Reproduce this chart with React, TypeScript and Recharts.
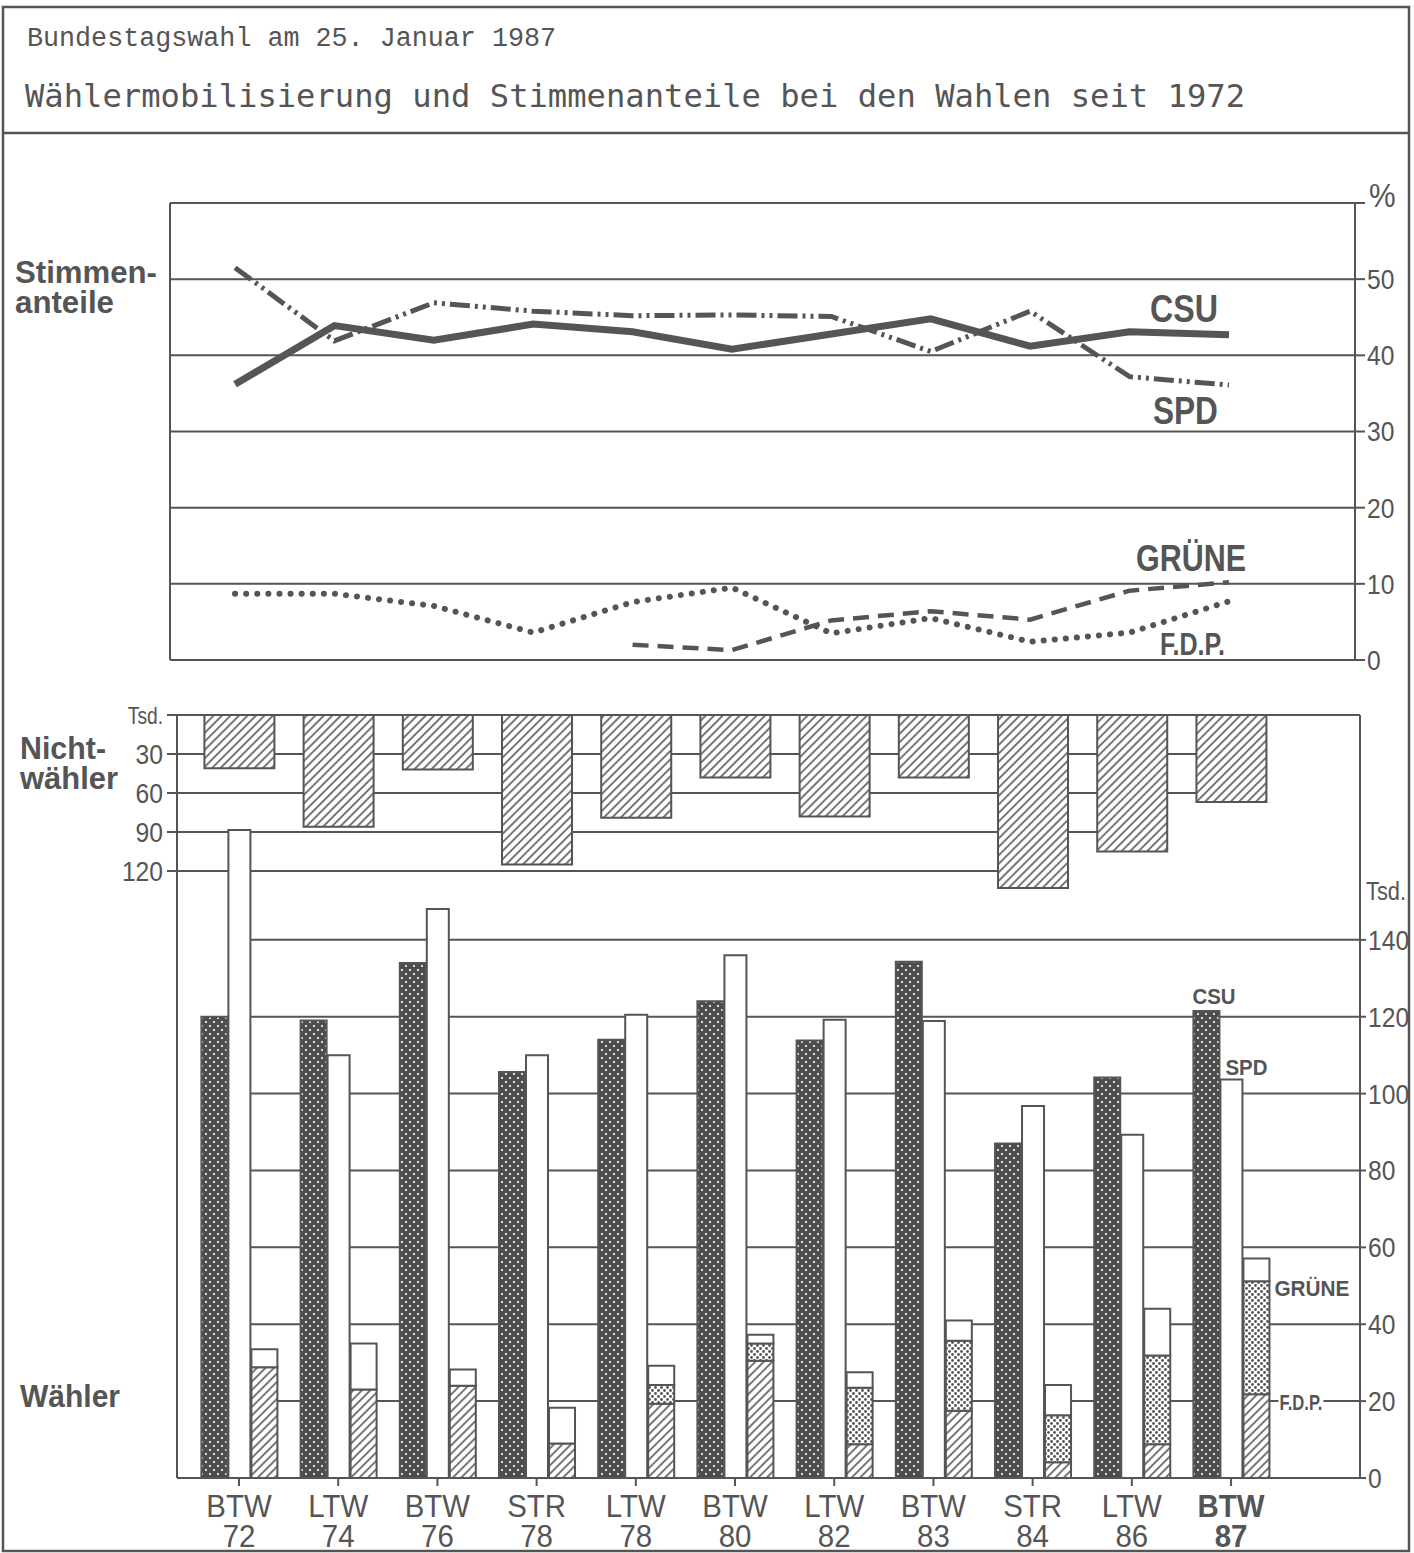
import React from "react";
import {
  LineChart,
  Line,
  ComposedChart,
  Bar,
  XAxis,
  YAxis,
  CartesianGrid,
  ReferenceLine,
  LabelList,
} from "recharts";

const INK = "#555";
const SANS = "'Liberation Sans', Arial, Helvetica, sans-serif";
const W = 1414;
const H = 1553;

// Wahlen
const wahlArt = ["BTW", "LTW", "BTW", "STR", "LTW", "BTW", "LTW", "BTW", "STR", "LTW", "BTW"];
const wahlJahr = ["72", "74", "76", "78", "78", "80", "82", "83", "84", "86", "87"];

// Stimmenanteile in %
const csuProzent = [36.2, 43.9, 42.0, 44.1, 43.1, 40.8, 42.8, 44.8, 41.2, 43.1, 42.7];
const spdProzent = [51.5, 41.9, 46.9, 45.8, 45.2, 45.3, 45.1, 40.5, 45.8, 37.2, 36.1];
const grueneProzent = [null, null, null, null, 2.0, 1.3, 5.2, 6.4, 5.3, 9.1, 10.2];
const fdpProzent = [8.7, 8.7, 7.1, 3.6, 7.6, 9.5, 3.5, 5.5, 2.4, 3.6, 7.7];

// Nichtwähler in Tsd.
const nichtwaehler = [41, 86, 42, 115, 79, 48, 78, 48, 133, 105, 67];

// Wähler in Tsd.
const csuStimmen = [120, 119, 134, 105.6, 114, 124, 113.8, 134.3, 87, 104.2, 121.5];
const spdStimmen = [168.6, 110, 148, 110, 120.5, 136, 119.2, 118.9, 96.8, 89.3, 103.7];
const fdpStimmen = [28.8, 23, 24, 9, 19.3, 30.5, 8.8, 17.5, 4.1, 8.8, 21.8];
const grueneStimmen = [null, null, null, null, 4.9, 4.5, 14.7, 18.2, 12.2, 23.1, 29.4];
const sonstStimmen = [4.7, 12, 4.2, 9.3, 5, 2.3, 4, 5.3, 7.9, 12.1, 5.9];

const pctTicks = [0, 10, 20, 30, 40, 50, 60];
const nwTicks = [0, 30, 60, 90, 120];
const wTicks = [0, 20, 40, 60, 80, 100, 120, 140];

const LAST = wahlArt.length - 1;
const idx = wahlArt.map((_, i) => i);

// x-range of the two plot areas in index units
const XMIN_T = -0.654;
const XMAX_T = 11.268;
const XMIN_B = -0.625;
const XMAX_B = 11.3;

const lineRows = idx.map((i) => ({
  i,
  csu: csuProzent[i],
  spd: spdProzent[i],
  gruene: grueneProzent[i],
  fdp: fdpProzent[i],
}));

const barRows = idx.map((i) => ({
  i,
  nw: nichtwaehler[i],
  csu: csuStimmen[i],
  spd: spdStimmen[i],
  fdp: fdpStimmen[i],
  gruene: grueneStimmen[i],
  sonst: sonstStimmen[i],
}));

// last election whose nonvoter bar still reaches a gridline
const reach = (v: number) => {
  let last = 0;
  nichtwaehler.forEach((n, i) => {
    if (n >= v) last = i;
  });
  return last;
};

function CondText({ x, y, size, sx = 0.88, anchor = "start", bold = false, dy, children }: any) {
  return (
    <text
      transform={`translate(${x},${y}) scale(${sx},1)`}
      textAnchor={anchor}
      fontSize={size}
      fontFamily={SANS}
      fontWeight={bold ? "bold" : "normal"}
      fill={INK}
      dy={dy}
    >
      {children}
    </text>
  );
}

const pctTick = (p: any) =>
  p.payload.value === 60 ? (
    <CondText x={p.x + 2} y={p.y - 8} size={34} dy="0.355em">%</CondText>
  ) : (
    <CondText x={p.x} y={p.y} size={28} dy="0.355em">{p.payload.value}</CondText>
  );

const nwTick = (p: any) =>
  p.payload.value === 0 ? (
    <CondText x={p.x} y={p.y} size={24} sx={0.8} anchor="end" dy="0.355em">Tsd.</CondText>
  ) : (
    <CondText x={p.x} y={p.y} size={28} anchor="end" dy="0.355em">{p.payload.value}</CondText>
  );

const wTick = (p: any) => (
  <CondText x={p.x} y={p.y} size={28} dy="0.355em">{p.payload.value}</CondText>
);

function WahlTick(p: any) {
  const i = p.payload.value;
  const bold = i === LAST;
  return (
    <g>
      <CondText x={p.x} y={p.y + 29} size={31} sx={0.95} anchor="middle" bold={bold}>{wahlArt[i]}</CondText>
      <CondText x={p.x} y={p.y + 59} size={31} sx={0.95} anchor="middle" bold={bold}>{wahlJahr[i]}</CondText>
    </g>
  );
}

const box = (p: any) => {
  const vb = p.viewBox || {};
  return {
    x: vb.x ?? p.x,
    y: vb.y ?? p.y,
    w: vb.width ?? p.width ?? 0,
    h: vb.height ?? p.height ?? 0,
  };
};

// label only the last election (BTW 87)
const isLast = (p: any, series: (number | null)[]) => {
  if (p.payload && typeof p.payload.i === "number") return p.payload.i === LAST;
  const v = Array.isArray(p.value) ? p.value[1] - p.value[0] : p.value;
  return v === series[LAST] || p.index === LAST;
};

const lineLabel = (series: (number | null)[], text: string, dx: number, dy: number, size: number, len: number) => (p: any) => {
  if (!isLast(p, series)) return null;
  const b = box(p);
  return (
    <text
      x={b.x + dx}
      y={b.y + dy}
      textAnchor="end"
      fontFamily={SANS}
      fontWeight="bold"
      fontSize={size}
      fill={INK}
      textLength={len}
      lengthAdjust="spacingAndGlyphs"
    >
      {text}
    </text>
  );
};

const barLabel = (series: (number | null)[], text: string, where: "top" | "right", dx: number, dy: number, len: number) => (p: any) => {
  if (!isLast(p, series)) return null;
  const b = box(p);
  const x = where === "top" ? b.x + dx : b.x + b.w + dx;
  const y = b.y + dy;
  return (
    <g>
      <rect x={x - 1} y={y - 17} width={len + 2} height={19} fill="#fff" />
      <text
        x={x}
        y={y}
        fontFamily={SANS}
        fontWeight="bold"
        fontSize={22}
        fill={INK}
        textLength={len}
        lengthAdjust="spacingAndGlyphs"
      >
        {text}
      </text>
    </g>
  );
};

const sideLabel = (text: string, x: number, y: number, size: number, len: number) => (
  <text
    x={x}
    y={y}
    fontFamily={SANS}
    fontWeight="bold"
    fontSize={size}
    fill={INK}
    textLength={len}
    lengthAdjust="spacingAndGlyphs"
  >
    {text}
  </text>
);

const grid = { stroke: INK, strokeWidth: 2 };

export default function App() {
  return (
    <div style={{ position: "absolute", left: 0, top: 0, width: W, height: H, background: "#fff", overflow: "hidden" }}>
      <svg width={W} height={H} style={{ position: "absolute", left: 0, top: 0 }}>
        <defs>
          <pattern id="hatch" patternUnits="userSpaceOnUse" width="6" height="6" patternTransform="rotate(45)">
            <rect width="6" height="6" fill="#fff" />
            <line x1="3" y1="0" x2="3" y2="6" stroke={INK} strokeWidth="1.6" />
          </pattern>
          <pattern id="csuDots" patternUnits="userSpaceOnUse" width="8" height="8">
            <rect width="8" height="8" fill="#4d4d4d" />
            <circle cx="2" cy="2" r="1.1" fill="#fff" />
            <circle cx="6" cy="6" r="1.1" fill="#fff" />
          </pattern>
          <pattern id="grDots" patternUnits="userSpaceOnUse" width="6" height="6">
            <rect width="6" height="6" fill="#fff" />
            <circle cx="1.5" cy="1.5" r="1.4" fill={INK} />
            <circle cx="4.5" cy="4.5" r="1.4" fill={INK} />
          </pattern>
        </defs>
        <rect x={3} y={7} width={1406} height={1544} fill="none" stroke={INK} strokeWidth={2.5} />
        <line x1={3} y1={133} x2={1409} y2={133} stroke={INK} strokeWidth={2.5} />
        <text x={27} y={46} fontFamily="'Liberation Mono', 'Courier New', monospace" fontSize={27} fill={INK} textLength={529} lengthAdjust="spacingAndGlyphs">
          Bundestagswahl am 25. Januar 1987
        </text>
        <text x={25} y={107} fontFamily="'DejaVu Sans Mono', monospace" fontSize={32} fill={INK} textLength={1220} lengthAdjust="spacingAndGlyphs">
          Wählermobilisierung und Stimmenanteile bei den Wahlen seit 1972
        </text>
        {sideLabel("Stimmen-", 15, 283, 31, 142)}
        {sideLabel("anteile", 15, 313, 31, 99)}
        {sideLabel("Nicht-", 20, 759, 32, 86)}
        {sideLabel("wähler", 20, 789, 32, 98)}
        {sideLabel("Wähler", 20, 1407, 31, 100)}
        <text x={1366} y={900} fontFamily={SANS} fontSize={25} fill={INK} textLength={40} lengthAdjust="spacingAndGlyphs">
          Tsd.
        </text>
      </svg>

      <div style={{ position: "absolute", left: 0, top: 0 }}>
        <LineChart width={W} height={700} data={lineRows} margin={{ top: 203, right: 0, bottom: 39, left: 170 }}>
          <CartesianGrid {...grid} />
          <XAxis
            type="number"
            dataKey="i"
            domain={[XMIN_T, XMAX_T]}
            allowDataOverflow
            ticks={idx}
            interval={0}
            height={1}
            tick={false}
            tickLine={false}
            axisLine={false}
          />
          <YAxis
            orientation="right"
            width={59}
            domain={[0, 60]}
            allowDataOverflow
            ticks={pctTicks}
            interval={0}
            axisLine={grid}
            tickLine={grid}
            tickSize={10}
            tickMargin={2}
            tick={pctTick}
          />
          <ReferenceLine x={XMIN_T} {...grid} />
          <ReferenceLine y={0} {...grid} />
          <ReferenceLine y={60} {...grid} />
          <Line dataKey="fdp" stroke={INK} strokeWidth={6} strokeDasharray="0.1 11" strokeLinecap="round" dot={false} isAnimationActive={false}>
            <LabelList dataKey="fdp" content={lineLabel(fdpProzent, "F.D.P.", -4, 54, 32, 65)} />
          </Line>
          <Line dataKey="gruene" stroke={INK} strokeWidth={4.5} strokeDasharray="16 9" dot={false} isAnimationActive={false}>
            <LabelList dataKey="gruene" content={lineLabel(grueneProzent, "GRÜNE", 17, -11, 36, 110)} />
          </Line>
          <Line dataKey="spd" stroke={INK} strokeWidth={5} strokeDasharray="20 5 3 5 3 5" dot={false} isAnimationActive={false}>
            <LabelList dataKey="spd" content={lineLabel(spdProzent, "SPD", -11, 39, 38, 65)} />
          </Line>
          <Line dataKey="csu" stroke={INK} strokeWidth={7} strokeLinejoin="miter" dot={false} isAnimationActive={false}>
            <LabelList dataKey="csu" content={lineLabel(csuProzent, "CSU", -11, -13, 38, 68)} />
          </Line>
        </LineChart>
      </div>

      <div style={{ position: "absolute", left: 0, top: 0 }}>
        <ComposedChart width={W} height={H} data={barRows} barGap={1} margin={{ top: 715, right: 0, bottom: 0, left: 0 }}>
          <XAxis
            xAxisId="w"
            type="number"
            dataKey="i"
            domain={[XMIN_B, XMAX_B]}
            allowDataOverflow
            ticks={idx}
            interval={0}
            height={75}
            axisLine={grid}
            tickLine={grid}
            tickSize={8}
            tickMargin={2}
            tick={WahlTick}
          />
          <XAxis xAxisId="nw" orientation="top" type="number" dataKey="i" domain={[XMIN_B, XMAX_B]} allowDataOverflow hide />
          <YAxis
            yAxisId="nw"
            orientation="left"
            width={177}
            reversed
            domain={[0, 587]}
            allowDataOverflow
            ticks={nwTicks}
            interval={0}
            axisLine={grid}
            tickLine={grid}
            tickSize={10}
            tickMargin={4}
            tick={nwTick}
          />
          <YAxis
            yAxisId="w"
            orientation="right"
            width={54}
            domain={[0, 198.5]}
            allowDataOverflow
            ticks={wTicks}
            interval={0}
            axisLine={grid}
            tickLine={grid}
            tickSize={6}
            tickMargin={2}
            tick={wTick}
          />
          <ReferenceLine xAxisId="nw" yAxisId="nw" y={0} {...grid} zIndex={-50} />
          {nwTicks.slice(1).map((v) => (
            <ReferenceLine
              key={"nw" + v}
              xAxisId="nw"
              yAxisId="nw"
              segment={[{ x: XMIN_B, y: v }, { x: reach(v), y: v }]}
              {...grid}
              zIndex={-50}
            />
          ))}
          {wTicks.slice(1).map((v) => (
            <ReferenceLine
              key={"w" + v}
              xAxisId="w"
              yAxisId="w"
              segment={[{ x: 0, y: v }, { x: XMAX_B, y: v }]}
              {...grid}
              zIndex={-50}
            />
          ))}
          <Bar xAxisId="nw" yAxisId="nw" dataKey="nw" barSize={70} fill="url(#hatch)" stroke={INK} strokeWidth={2} isAnimationActive={false} />
          <Bar xAxisId="w" yAxisId="w" dataKey="csu" stackId="a" barSize={26} fill="url(#csuDots)" stroke={INK} strokeWidth={2} isAnimationActive={false}>
            <LabelList dataKey="csu" content={barLabel(csuStimmen, "CSU", "top", -1, -7, 43)} />
          </Bar>
          <Bar xAxisId="w" yAxisId="w" dataKey="spd" stackId="b" barSize={22} fill="#fff" stroke={INK} strokeWidth={2} isAnimationActive={false}>
            <LabelList dataKey="spd" content={barLabel(spdStimmen, "SPD", "top", 5, -4, 42)} />
          </Bar>
          <Bar xAxisId="w" yAxisId="w" dataKey="fdp" stackId="c" barSize={26} fill="url(#hatch)" stroke={INK} strokeWidth={2} isAnimationActive={false}>
            <LabelList dataKey="fdp" content={barLabel(fdpStimmen, "F.D.P.", "right", 10, 16, 43)} />
          </Bar>
          <Bar xAxisId="w" yAxisId="w" dataKey="gruene" stackId="c" barSize={26} fill="url(#grDots)" stroke={INK} strokeWidth={2} isAnimationActive={false}>
            <LabelList dataKey="gruene" content={barLabel(grueneStimmen, "GRÜNE", "right", 5, 15, 75)} />
          </Bar>
          <Bar xAxisId="w" yAxisId="w" dataKey="sonst" stackId="c" barSize={26} fill="#fff" stroke={INK} strokeWidth={2} isAnimationActive={false} />
        </ComposedChart>
      </div>
    </div>
  );
}
